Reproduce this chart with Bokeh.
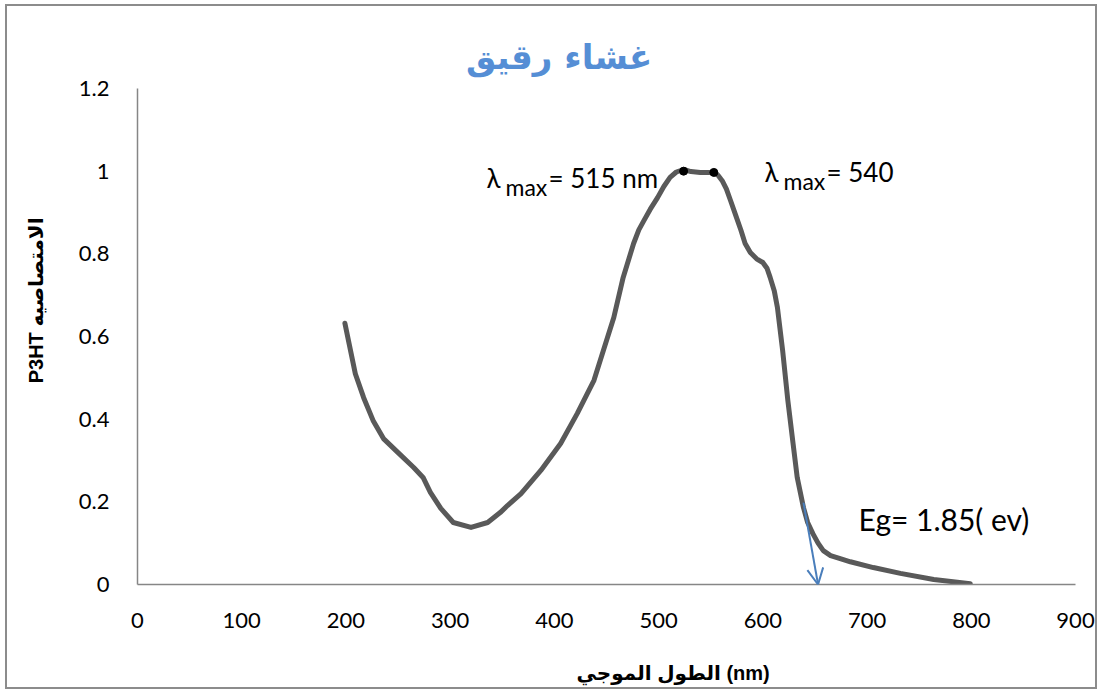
from bokeh.plotting import figure
from bokeh.models import Range1d, FixedTicker, Label, Arrow, OpenHead
from bokeh.embed import file_html
from bokeh.resources import INLINE

# ---- data ----
wavelength = [199, 203, 209, 217, 226, 236, 250, 265, 274, 281, 291, 303, 320, 336, 348, 355,
              368, 387, 406, 422, 438, 447, 457, 466, 476, 481, 486, 492, 499, 505, 511, 517,
              524, 531, 540, 553, 557, 561, 565, 569, 574, 579, 583, 588, 594, 600, 604, 607,
              611, 614, 619, 624, 629, 633, 639, 643, 648, 653, 658, 665, 675, 684,
              706, 732, 764, 799]
absorbance = [0.632, 0.583, 0.510, 0.452, 0.397, 0.353, 0.319, 0.283, 0.259, 0.223, 0.184, 0.150,
              0.138, 0.150, 0.174, 0.191, 0.220, 0.276, 0.341, 0.414, 0.494, 0.566, 0.646, 0.743,
              0.825, 0.858, 0.881, 0.908, 0.936, 0.963, 0.985, 0.998,
              1.004, 0.999, 0.997, 0.997, 0.990, 0.977, 0.957, 0.929, 0.893, 0.857, 0.825,
              0.803, 0.788, 0.779, 0.765, 0.743, 0.710, 0.670, 0.566, 0.445, 0.341, 0.259,
              0.186, 0.150, 0.123, 0.100, 0.082, 0.070, 0.062, 0.055,
              0.041, 0.027, 0.012, 0.002]
peak_x = [524, 553]
peak_y = [1.0, 0.997]
arrow_start = (639, 0.198)
arrow_end = (653, 0.0)
x_ticks = [0, 100, 200, 300, 400, 500, 600, 700, 800, 900]
y_ticks = [0, 0.2, 0.4, 0.6, 0.8, 1.0, 1.2]
y_tick_labels = ["0", "0.2", "0.4", "0.6", "0.8", "1", "1.2"]

title_text = "غشاء رقيق"
x_label_text = "الطول الموجي (nm)"
y_label_text = "P3HT الامتصاصيه"

NB = "\u00a0"

p = figure(width=1092, height=685, output_backend="svg", toolbar_location=None,
           x_range=Range1d(0, 900), y_range=Range1d(0, 1.2),
           min_border_left=130, min_border_right=24, min_border_top=82, min_border_bottom=107)
p.styles = {"border": "2px solid #8c8c8c", "margin-left": "5px", "margin-top": "4px"}
p.outline_line_color = None
p.grid.visible = False
p.background_fill_color = "white"
p.border_fill_color = "white"

p.title.text = title_text + NB * 8
p.title.text_font = "DejaVu Sans"
p.title.text_font_size = "34px"
p.title.text_font_style = "bold"
p.title.text_color = "#558ed5"
p.title.align = "center"
p.title.standoff = 24

for ax in (p.xaxis[0], p.yaxis[0]):
    ax.axis_line_color = "#868686"
    ax.axis_line_width = 1.5
    ax.major_tick_line_color = None
    ax.minor_tick_line_color = None
    ax.major_tick_out = 0
    ax.major_tick_in = 0
    ax.minor_tick_out = 0
    ax.major_label_text_font = "Lato"
    ax.major_label_text_font_size = "22px"
    ax.major_label_text_color = "#000000"
    ax.axis_label_text_font = "Liberation Sans, DejaVu Sans"
    ax.axis_label_text_font_size = "20px"
    ax.axis_label_text_font_style = "bold"
    ax.axis_label_text_color = "#000000"

p.xaxis.ticker = FixedTicker(ticks=x_ticks)
p.xaxis.major_label_standoff = 28
p.xaxis.axis_label = NB * 24 + x_label_text
p.xaxis.axis_label_standoff = 31
p.yaxis.ticker = FixedTicker(ticks=y_ticks)
p.yaxis.major_label_overrides = {t: s for t, s in zip(y_ticks, y_tick_labels)}
p.yaxis.major_label_standoff = 28
p.yaxis.axis_label = NB * 13 + y_label_text
p.yaxis.axis_label_standoff = 29

p.line(wavelength, absorbance, line_color="#595959", line_width=5,
       line_join="round", line_cap="round")
p.scatter(peak_x, peak_y, size=8, fill_color="black", line_color="black")

p.add_layout(Arrow(x_start=arrow_start[0], y_start=arrow_start[1],
                   x_end=arrow_end[0], y_end=arrow_end[1],
                   line_color="#4a7ebb", line_width=2,
                   end=OpenHead(size=16, line_color="#4a7ebb", line_width=2)))

def px_x(px):
    return (px - 137) / (938 / 900)

def px_y(py):
    return (584 - py) / (496 / 1.2)

# lambda max annotations
def lam(x0, base, rest):
    p.add_layout(Label(x=px_x(x0), y=px_y(base), text="λ", text_font="Lato", text_color="#000000",
                       text_font_size="26px", text_baseline="alphabetic", text_align="left"))
    p.add_layout(Label(x=px_x(x0 + 19), y=px_y(base + 9), text="max", text_font="Lato",
                       text_color="#000000",
                       text_font_size="23px", text_baseline="alphabetic", text_align="left"))
    p.add_layout(Label(x=px_x(x0 + 62), y=px_y(base), text=rest, text_font="Lato",
                       text_color="#000000",
                       text_font_size="26px", text_baseline="alphabetic", text_align="left"))

lam(486, 177, "= 515 nm")
lam(764, 171, "= 540")

p.add_layout(Label(x=px_x(858), y=px_y(518), text="Eg= 1.85( ev)", text_font="Lato",
                   text_color="#000000",
                   text_font_size="30px", text_baseline="alphabetic", text_align="left"))

open("out.html", "w").write(file_html(p, INLINE))
